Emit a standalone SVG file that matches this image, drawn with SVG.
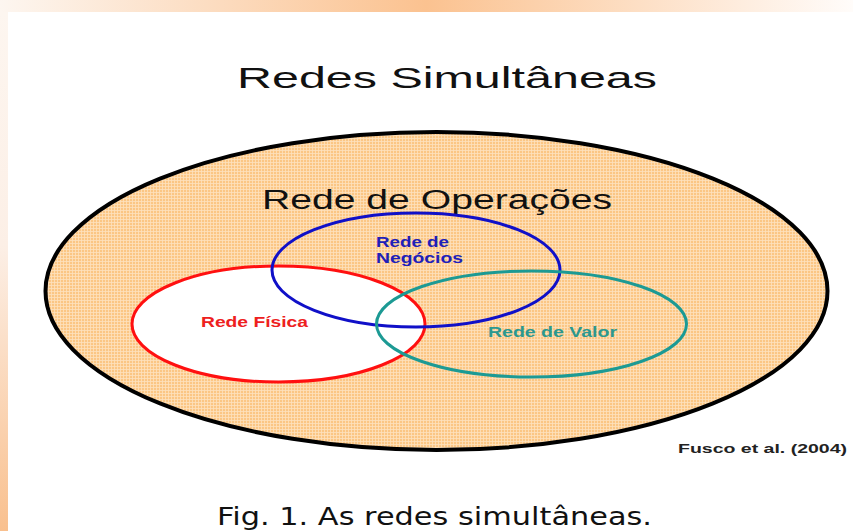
<svg xmlns="http://www.w3.org/2000/svg" width="853" height="531" viewBox="0 0 853 531">
  <defs>
    <linearGradient id="topBand" x1="0" y1="0" x2="1" y2="0">
      <stop offset="0" stop-color="#FDF6F0"/>
      <stop offset="0.5" stop-color="#FBC290"/>
      <stop offset="1" stop-color="#FFFCFA"/>
    </linearGradient>
    <linearGradient id="leftBand" x1="0" y1="0" x2="0" y2="1">
      <stop offset="0" stop-color="#FDF6F0"/>
      <stop offset="0.45" stop-color="#FCEFE6"/>
      <stop offset="1" stop-color="#F9C08E"/>
    </linearGradient>
    <pattern id="grid" width="3" height="3" patternUnits="userSpaceOnUse">
      <rect width="3" height="3" fill="#FBC684"/>
      <rect width="3" height="0.8" fill="#FEE2BE"/>
      <rect width="0.8" height="3" fill="#FEE2BE"/>
    </pattern>
  </defs>
  <style>
    .sans { font-family: "Liberation Sans", Arial, sans-serif; }
    .lbl { font-family: "Liberation Sans", Arial, sans-serif; font-weight: bold; font-size: 15px; }
    .ring { stroke-width: 3; }
  </style>

  <rect width="853" height="531" fill="#FFFFFF"/>
  <rect x="0" y="0" width="853" height="12" fill="url(#topBand)"/>
  <rect x="0" y="12" width="8" height="519" fill="url(#leftBand)"/>

  <text class="sans" x="237" y="88" font-size="30" fill="#111111" textLength="420" lengthAdjust="spacingAndGlyphs">Redes Simultâneas</text>

  <g id="rede-operacoes">
    <ellipse cx="436.5" cy="291" rx="391" ry="159" fill="url(#grid)" stroke="#000000" stroke-width="4"/>
    <text class="sans" x="262" y="209" font-size="27" fill="#111111" textLength="350" lengthAdjust="spacingAndGlyphs">Rede de Operações</text>
  </g>

  <g id="rede-fisica">
    <ellipse class="ring" cx="278.5" cy="324" rx="146.5" ry="58" fill="#FFFFFF" stroke="#FF1010"/>
    <text class="lbl" x="201" y="327" fill="#EE2020" textLength="107" lengthAdjust="spacingAndGlyphs">Rede Física</text>
  </g>

  <g id="rede-negocios">
    <ellipse class="ring" cx="416" cy="270" rx="144" ry="57" fill="none" stroke="#1010C8"/>
    <text class="lbl" x="376" y="247" fill="#2020B8" textLength="73" lengthAdjust="spacingAndGlyphs">Rede de</text>
    <text class="lbl" x="376" y="263" fill="#2020B8" textLength="87" lengthAdjust="spacingAndGlyphs">Negócios</text>
  </g>

  <g id="rede-valor">
    <ellipse class="ring" cx="531.5" cy="324" rx="155" ry="53" fill="none" stroke="#1C9A94"/>
    <text class="lbl" x="488" y="337" fill="#2C9890" textLength="129" lengthAdjust="spacingAndGlyphs">Rede de Valor</text>
  </g>

  <g id="connectors"></g>

  <text class="sans" x="678" y="453" font-size="13" font-weight="bold" fill="#222222" textLength="169" lengthAdjust="spacingAndGlyphs">Fusco et al. (2004)</text>

  <text x="217" y="525" font-family="'DejaVu Sans', Verdana, sans-serif" font-size="25" fill="#111111" textLength="435" lengthAdjust="spacingAndGlyphs">Fig. 1. As redes simultâneas.</text>
</svg>
